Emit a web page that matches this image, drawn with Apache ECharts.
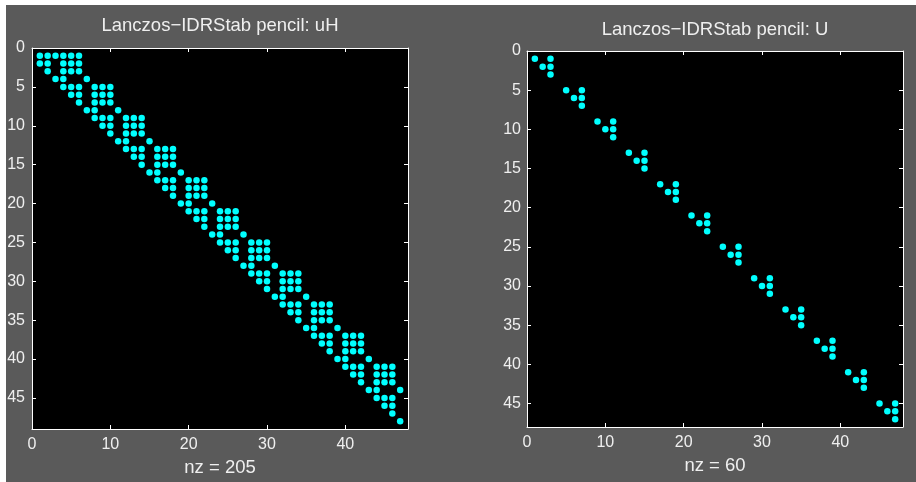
<!DOCTYPE html>
<html>
<head>
<meta charset="utf-8">
<script src="https://cdn.jsdelivr.net/npm/echarts@6/dist/echarts.min.js"></script>
<style>
  html, body { margin: 0; padding: 0; background: #fff; }
  #chart {
    width: 916px; height: 482px;
    background: linear-gradient(#5a5a5a, #5a5a5a) no-repeat 6px 5px / 910px 477px, #ffffff;
  }
</style>
</head>
<body>
<div id="chart"></div>
<script>
// ---- data ----
const titles = ['Lanczos\u2212IDRStab pencil: uH', 'Lanczos\u2212IDRStab pencil: U'];
const xTickLabels = [0, 10, 20, 30, 40];
const yTickLabels = [0, 5, 10, 15, 20, 25, 30, 35, 40, 45];
// matrix sizes [rows, cols]
const uHSize = [48, 47];
const uSize = [47, 47];
// nonzero column indices for each row (row 1 first)
const uHRows = [
  [1,2,3,4,5,6], [1,2,4,5,6], [2,4,5,6], [3,4,7],
  [4,5,6,8,9,10], [5,6,8,9,10], [6,8,9,10], [7,8,11],
  [8,9,10,12,13,14], [9,10,12,13,14], [10,12,13,14], [11,12,15],
  [12,13,14,16,17,18], [13,14,16,17,18], [14,16,17,18], [15,16,19],
  [16,17,18,20,21,22], [17,18,20,21,22], [18,20,21,22], [19,20,23],
  [20,21,22,24,25,26], [21,22,24,25,26], [22,24,25,26], [23,24,27],
  [24,25,26,28,29,30], [25,26,28,29,30], [26,28,29,30], [27,28,31],
  [28,29,30,32,33,34], [29,30,32,33,34], [30,32,33,34], [31,32,35],
  [32,33,34,36,37,38], [33,34,36,37,38], [34,36,37,38], [35,36,39],
  [36,37,38,40,41,42], [37,38,40,41,42], [38,40,41,42], [39,40,43],
  [40,41,42,44,45,46], [41,42,44,45,46], [42,44,45,46], [43,44,47],
  [44,45,46], [45,46], [46], [47]
];
const uRows = [
  [1,3], [2,3], [3], [],
  [5,7], [6,7], [7], [],
  [9,11], [10,11], [11], [],
  [13,15], [14,15], [15], [],
  [17,19], [18,19], [19], [],
  [21,23], [22,23], [23], [],
  [25,27], [26,27], [27], [],
  [29,31], [30,31], [31], [],
  [33,35], [34,35], [35], [],
  [37,39], [38,39], [39], [],
  [41,43], [42,43], [43], [],
  [45,47], [46,47], [47]
];

// ---- build ----
function toPoints(rows) {
  const pts = [];
  rows.forEach((cols, i) => cols.forEach(c => pts.push([c, i + 1])));
  return pts;
}
const uHPts = toPoints(uHRows);
const uPts = toPoints(uRows);

const FONT = 'Liberation Sans, Arial, Helvetica, sans-serif';
const TXT = '#efefef';
const grids = [
  { left: 32, top: 48, width: 376, height: 383 },
  { left: 527, top: 51, width: 376, height: 376 }
];
const sizes = [uHSize, uSize];
const pts = [uHPts, uPts];

const xAxes = [], yAxes = [], series = [];
grids.forEach((g, gi) => {
  const xmax = sizes[gi][1] + 1, ymax = sizes[gi][0] + 1;
  const base = {
    type: 'value', gridIndex: gi, min: 0, interval: 10, max: xmax,
    axisLine: { show: true, onZero: false, lineStyle: { color: '#ffffff', width: 1 } },
    axisTick: { show: true, inside: true, length: 4, lineStyle: { color: '#ffffff' } },
    splitLine: { show: false }
  };
  xAxes.push(Object.assign({}, base, {
    position: 'bottom',
    name: 'nz = ' + pts[gi].length,
    nameLocation: 'middle', nameGap: 29,
    nameTextStyle: { color: TXT, fontSize: 18.5, fontFamily: FONT },
    axisLabel: {
      color: TXT, fontSize: 16, fontFamily: FONT, margin: 8,
      showMaxLabel: false,
      formatter: v => xTickLabels.indexOf(v) >= 0 ? String(v) : ''
    }
  }));
  xAxes.push(Object.assign({}, base, { position: 'top', axisLabel: { show: false } }));
  const ybase = {
    type: 'value', gridIndex: gi, min: 0, max: ymax, interval: 5, inverse: true,
    axisLine: { show: true, onZero: false, lineStyle: { color: '#ffffff', width: 1 } },
    axisTick: { show: true, inside: true, length: 4, lineStyle: { color: '#ffffff' } },
    splitLine: { show: false }
  };
  yAxes.push(Object.assign({}, ybase, {
    position: 'left',
    axisLabel: {
      color: TXT, fontSize: 16, fontFamily: FONT, margin: gi === 0 ? 7 : 6,
      showMaxLabel: false,
      formatter: v => yTickLabels.indexOf(v) >= 0 ? String(v) : ''
    }
  }));
  yAxes.push(Object.assign({}, ybase, { position: 'right', axisLabel: { show: false } }));
  series.push({
    type: 'scatter', xAxisIndex: gi * 2, yAxisIndex: gi * 2,
    data: pts[gi], symbolSize: 6.5, silent: true,
    itemStyle: { color: '#00ffff', opacity: 1 }
  });
});

const chart = echarts.init(document.getElementById('chart'), null, { renderer: 'canvas' });
chart.setOption({
  backgroundColor: 'transparent',
  animation: false,
  title: [
    { text: titles[0], left: 220, top: 16, padding: 0, textAlign: 'center',
      textStyle: { color: TXT, fontSize: 18.5, fontWeight: 'normal', fontFamily: FONT } },
    { text: titles[1], left: 715, top: 20, padding: 0, textAlign: 'center',
      textStyle: { color: TXT, fontSize: 18.5, fontWeight: 'normal', fontFamily: FONT } }
  ],
  grid: grids.map(g => Object.assign({ show: true, backgroundColor: '#000000', borderWidth: 0, containLabel: false }, g)),
  xAxis: xAxes,
  yAxis: yAxes,
  series: series
});
</script>
</body>
</html>
